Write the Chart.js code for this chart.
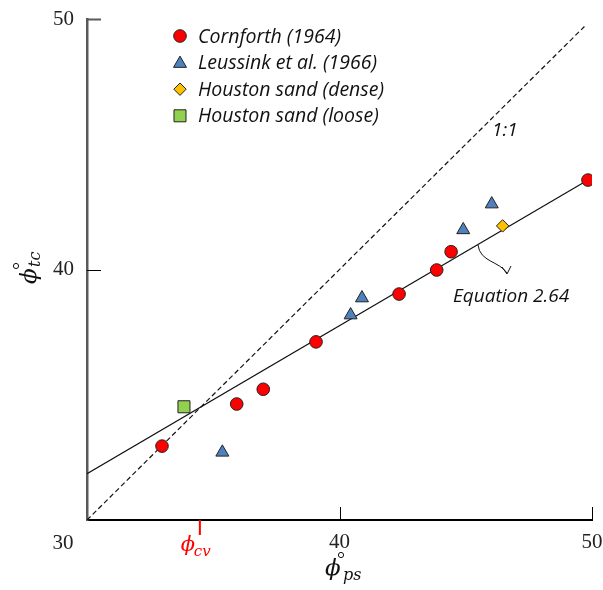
<!DOCTYPE html>
<html>
<head>
<meta charset="utf-8">
<script src="https://cdn.jsdelivr.net/npm/chart.js@4"></script>
<style>
  html, body { margin: 0; padding: 0; background: #fff; }
  #wrap { width: 603px; height: 590px; position: relative; }
</style>
</head>
<body>
<div id="wrap"><canvas id="chart"></canvas></div>
<script>
// valores (phi_ps, phi_tc)
const cornforthX = [32.97, 35.93, 36.98, 39.07, 42.36, 43.85, 44.42, 49.84];
const cornforthY = [32.95, 34.63, 35.22, 37.11, 39.02, 39.98, 40.71, 43.57];
const leussinkX = [35.36, 40.44, 40.89, 44.90, 46.03];
const leussinkY = [32.70, 38.18, 38.86, 41.58, 42.61];
const denseX = [46.46];
const denseY = [41.74];
const looseX = [33.84];
const looseY = [34.52];
const lineaX = [30, 49.84];
const lineaY = [31.85, 43.57];
const unoX = [30, 49.7];
const unoY = [30, 49.7];
const PHI_CV = 34.47;
const TICKS = [30, 40, 50];

const pts = (xs, ys) => xs.map((x, i) => ({ x: x, y: ys[i] }));

const LEGEND = [
  { label: 'Cornforth (1964)', style: 'circle', color: '#ff0000', r: 6.3 },
  { label: 'Leussink et al. (1966)', style: 'triangle', color: '#4f81bd', r: 7.5 },
  { label: 'Houston sand (dense)', style: 'rectRot', color: '#ffc000', r: 6.2 },
  { label: 'Houston sand (loose)', style: 'rect', color: '#92d050', r: 8.5 }
];

function anillo(ctx, x, y) {
  ctx.beginPath();
  ctx.arc(x, y, 2.6, 0, Math.PI * 2);
  ctx.stroke();
}

const decoraciones = {
  id: 'decoraciones',
  afterDraw(chart) {
    const ctx = chart.ctx;
    const xs = chart.scales.x, ys = chart.scales.y;
    const a = chart.chartArea;
    ctx.save();

    // ticks hacia dentro
    [40, 50].forEach(v => {
      ctx.strokeStyle = '#000';
      ctx.lineWidth = 1;
      const px = Math.round(xs.getPixelForValue(v)) + 0.5;
      ctx.beginPath(); ctx.moveTo(px, a.bottom); ctx.lineTo(px, a.bottom - 13); ctx.stroke();
      const py = Math.round(ys.getPixelForValue(v)) + 0.5;
      ctx.strokeStyle = v === 50 ? '#595959' : '#000';
      ctx.lineWidth = v === 50 ? 2 : 1;
      ctx.beginPath(); ctx.moveTo(a.left, py); ctx.lineTo(a.left + 14, py); ctx.stroke();
    });

    // etiqueta 30 de la esquina
    ctx.fillStyle = '#222';
    ctx.font = '21px "Liberation Serif", serif';
    ctx.textAlign = 'center';
    ctx.textBaseline = 'middle';
    ctx.fillText('30', a.left - 24, a.bottom + 23);

    // phi_cv
    const cx = xs.getPixelForValue(PHI_CV);
    ctx.strokeStyle = '#ff0000';
    ctx.lineWidth = 2;
    ctx.beginPath(); ctx.moveTo(cx, a.bottom); ctx.lineTo(cx, a.bottom + 15); ctx.stroke();
    ctx.fillStyle = '#ff0000';
    ctx.textAlign = 'left';
    ctx.font = 'italic 21px "DejaVu Serif", serif';
    ctx.fillText('ϕ', cx - 19, a.bottom + 26);
    ctx.font = 'italic 15px "DejaVu Serif", serif';
    ctx.fillText('cv', cx - 6, a.bottom + 32);

    // titulo eje x
    ctx.fillStyle = '#111';
    ctx.strokeStyle = '#111';
    ctx.lineWidth = 1;
    ctx.font = 'italic 23px "DejaVu Serif", serif';
    ctx.fillText('ϕ', 325, 569);
    anillo(ctx, 341, 555);
    ctx.font = 'italic 16px "DejaVu Serif", serif';
    ctx.fillText('ps', 343, 576);

    // titulo eje y
    ctx.save();
    ctx.translate(30, 275);
    ctx.rotate(-Math.PI / 2);
    ctx.font = 'italic 23px "DejaVu Serif", serif';
    ctx.fillText('ϕ', -9, 0);
    anillo(ctx, 9, -14);
    ctx.font = 'italic 16px "DejaVu Serif", serif';
    ctx.fillText('tc', 8, 6);
    ctx.restore();

    // leyenda
    ctx.font = 'italic 19.5px "Open Sans", sans-serif';
    ctx.textAlign = 'left';
    LEGEND.forEach((item, i) => {
      const y = 36 + i * 26.6;
      ctx.fillStyle = item.color;
      ctx.strokeStyle = '#222';
      ctx.lineWidth = 1;
      Chart.helpers.drawPoint(ctx, { pointStyle: item.style, radius: item.r, borderWidth: 1 }, 180, y + (item.style === 'triangle' ? 1 : 0));
      ctx.fillStyle = '#111';
      ctx.fillText(item.label, 198, y + 1);
    });

    // anotaciones
    ctx.font = 'italic 19px "Open Sans", sans-serif';
    ctx.fillText('1:1', 492, 131);
    ctx.fillText('Equation 2.64', 453, 297);

    // flecha curva
    ctx.strokeStyle = '#111';
    ctx.lineWidth = 1;
    ctx.beginPath();
    ctx.moveTo(478, 245);
    ctx.bezierCurveTo(480, 262, 499, 261, 507, 273);
    ctx.stroke();
    ctx.beginPath();
    ctx.moveTo(502, 267); ctx.lineTo(507, 274); ctx.lineTo(511, 266);
    ctx.stroke();

    ctx.restore();
  }
};

const sinRelleno = s => { s.paddingLeft = 0; s.paddingRight = 0; s.paddingTop = 0; s.paddingBottom = 0; };

new Chart(document.getElementById('chart'), {
  type: 'scatter',
  data: {
    datasets: [
      { label: '1:1', type: 'line', data: pts(unoX, unoY), borderColor: '#111', borderWidth: 1.2, borderDash: [5, 3], pointRadius: 0, fill: false, order: 10 },
      { label: 'Equation 2.64', type: 'line', data: pts(lineaX, lineaY), borderColor: '#111', borderWidth: 1.2, pointRadius: 0, fill: false, order: 9 },
      { label: LEGEND[0].label, data: pts(cornforthX, cornforthY), pointStyle: 'circle', pointRadius: 6.3, backgroundColor: '#ff0000', borderColor: '#222', borderWidth: 1, order: 1 },
      { label: LEGEND[1].label, data: pts(leussinkX, leussinkY), pointStyle: 'triangle', pointRadius: 7.5, backgroundColor: '#4f81bd', borderColor: '#222', borderWidth: 1, order: 1 },
      { label: LEGEND[2].label, data: pts(denseX, denseY), pointStyle: 'rectRot', pointRadius: 6.2, backgroundColor: '#ffc000', borderColor: '#222', borderWidth: 1, order: 1 },
      { label: LEGEND[3].label, data: pts(looseX, looseY), pointStyle: 'rect', pointRadius: 8.5, backgroundColor: '#92d050', borderColor: '#222', borderWidth: 1, order: 1 }
    ]
  },
  options: {
    responsive: true,
    maintainAspectRatio: false,
    animation: false,
    layout: { padding: { top: 19, right: 11, left: 0, bottom: 0 } },
    plugins: { legend: { display: false }, tooltip: { enabled: false } },
    scales: {
      x: {
        type: 'linear', min: 30, max: 50,
        afterBuildTicks: s => { s.ticks = TICKS.map(v => ({ value: v })); },
        afterFit: s => { s.height = 70; sinRelleno(s); },
        grid: { display: false, drawTicks: false },
        border: { display: true, color: '#000', width: 2 },
        ticks: { padding: 10, color: '#222', font: { family: '"Liberation Serif", serif', size: 21 }, callback: v => v === 30 ? '' : v, maxRotation: 0 }
      },
      y: {
        type: 'linear', min: 30, max: 50,
        afterBuildTicks: s => { s.ticks = TICKS.map(v => ({ value: v })); },
        afterFit: s => { s.width = 87; sinRelleno(s); },
        grid: { display: false, drawTicks: false },
        border: { display: true, color: '#595959', width: 2.5 },
        ticks: { padding: 13, color: '#222', font: { family: '"Liberation Serif", serif', size: 21 }, callback: v => v === 30 ? '' : v }
      }
    }
  },
  plugins: [decoraciones]
});
</script>
</body>
</html>
